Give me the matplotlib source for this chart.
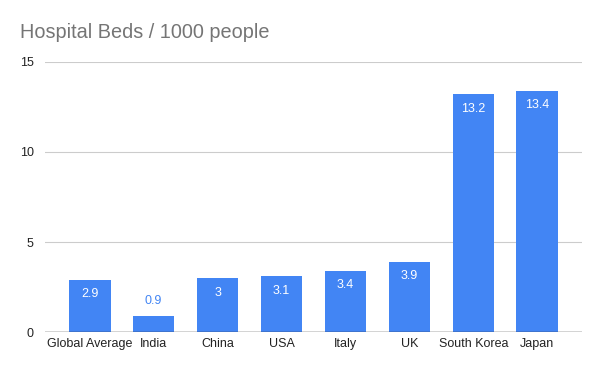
import numpy as np
import matplotlib.pyplot as plt

countries = ["Global Average", "India", "China", "USA", "Italy", "UK", "South Korea", "Japan"]
beds = [2.9, 0.9, 3, 3.1, 3.4, 3.9, 13.2, 13.4]
labels = ["2.9", "0.9", "3", "3.1", "3.4", "3.9", "13.2", "13.4"]

plt.rcParams['font.family'] = ['Liberation Sans', 'DejaVu Sans']

blue = "#4285F4"
fig = plt.figure(figsize=(6, 3.71), dpi=100)
ax = fig.add_axes([0.075, 0.105, 0.895, 0.728])

x = np.arange(len(countries))
bars = ax.bar(x, beds, width=0.65, color=blue, zorder=3)

for xi, v, lab in zip(x, beds, labels):
    if v < 2:
        ax.annotate(lab, (xi, v), xytext=(0, 11), textcoords="offset points",
                    ha="center", va="center", color=blue, fontsize=9)
    else:
        ax.annotate(lab, (xi, v), xytext=(0, -10.5), textcoords="offset points",
                    ha="center", va="center", color="white", fontsize=9)

ax.set_xlim(-0.7, 7.7)
ax.set_ylim(0, 15)
ax.set_yticks([0, 5, 10, 15])
ax.set_xticks(x)
ax.set_xticklabels(countries)
ax.tick_params(axis="both", length=0, labelsize=9, colors="#222222")
ax.tick_params(axis="y", pad=8)
ax.tick_params(axis="x", pad=4)
for s in ax.spines.values():
    s.set_visible(False)
ax.grid(axis="y", color="#cccccc", linewidth=0.8, zorder=0)
ax.axhline(0, color="#333333", linewidth=1, zorder=4)

fig.text(0.033, 0.912, "Hospital Beds / 1000 people", fontsize=14.3, color="#757575",
         ha="left", va="center")

fig.savefig("out.png", dpi=100)
